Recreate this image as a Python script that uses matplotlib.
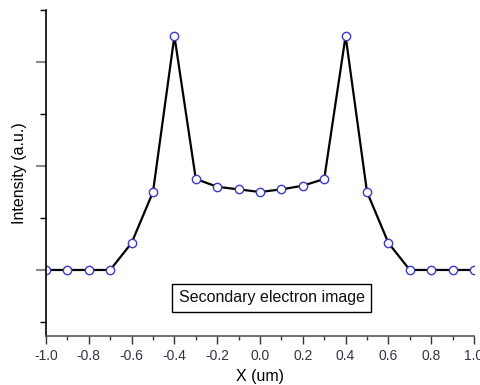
import matplotlib
matplotlib.use("Agg")
import matplotlib.pyplot as plt
from matplotlib.ticker import MultipleLocator

plt.rcParams['font.family'] = ['Liberation Sans', 'DejaVu Sans']

# Line-scan profile across the sample
x_um = [-1.0, -0.9, -0.8, -0.7, -0.6, -0.5, -0.4, -0.3, -0.2, -0.1, 0.0,
        0.1, 0.2, 0.3, 0.4, 0.5, 0.6, 0.7, 0.8, 0.9, 1.0]
intensity = [0.0, 0.0, 0.0, 0.0, 0.26, 0.75, 2.25, 0.875, 0.80, 0.775, 0.75,
             0.775, 0.81, 0.875, 2.25, 0.75, 0.26, 0.0, 0.0, 0.0, 0.0]
x_ticks = [-1.0, -0.8, -0.6, -0.4, -0.2, 0.0, 0.2, 0.4, 0.6, 0.8, 1.0]
x_ticklabels = ["-1.0", "-0.8", "-0.6", "-0.4", "-0.2", "0.0", "0.2", "0.4", "0.6", "0.8", "1.0"]
annotation = "Secondary electron image"

fig = plt.figure(figsize=(4.8, 3.85), dpi=100)
ax = fig.add_axes([46 / 480, 49 / 385, 428 / 480, 326 / 385])

ax.plot(x_um, intensity, color='black', lw=1.6,
        marker='o', markersize=6, markerfacecolor='white',
        markeredgecolor='#3b3bc8', markeredgewidth=1.0)

ax.set_xlim(-1.0, 1.0)
ax.set_ylim(-0.635, 2.5)

ax.spines['top'].set_visible(False)
ax.spines['right'].set_visible(False)
ax.spines['left'].set_color('black')
ax.spines['bottom'].set_color('#555555')
ax.spines['left'].set_linewidth(1.2)
ax.spines['bottom'].set_linewidth(1.2)

ax.set_xticks(x_ticks)
ax.set_xticklabels(x_ticklabels)
ax.xaxis.set_minor_locator(MultipleLocator(0.1))
ax.tick_params(axis='x', which='major', direction='out', length=6, width=1,
               color='#333333', labelsize=10, labelcolor='#333344', pad=3)
ax.tick_params(axis='x', which='minor', direction='out', length=3, width=1,
               color='#333333')

ax.yaxis.set_major_locator(MultipleLocator(1.0))
ax.yaxis.set_minor_locator(MultipleLocator(0.5))
ax.tick_params(axis='y', which='major', direction='out', length=7, width=1.5,
               color='#888888', labelleft=False)
ax.tick_params(axis='y', which='minor', direction='out', length=4, width=1,
               color='black')

ax.set_xlabel("X (um)", fontsize=11.5, labelpad=5)
ax.set_ylabel("Intensity (a.u.)", fontsize=11.5, labelpad=6)

ax.text(0.527, 0.117, annotation, transform=ax.transAxes, ha='center', va='center',
        fontsize=11.5, color='#111111',
        bbox=dict(boxstyle='square,pad=0.4', facecolor='white', edgecolor='black', lw=1))

fig.savefig("out.png", dpi=100)
